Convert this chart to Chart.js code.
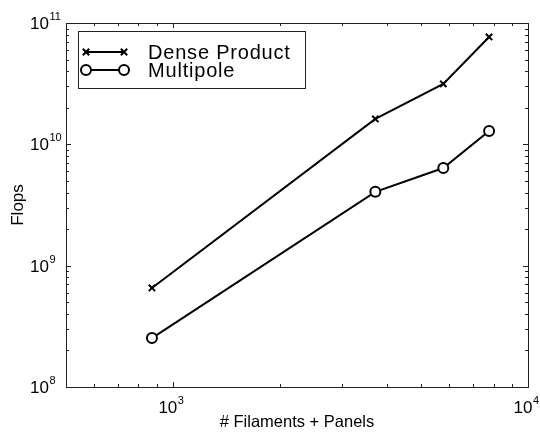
<!DOCTYPE html>
<html>
<head>
<meta charset="utf-8">
<script src="https://cdn.jsdelivr.net/npm/chart.js@4"></script>
<style>
  html, body { margin: 0; padding: 0; background: #fff; }
  #wrap { width: 540px; height: 437px; position: relative; }
</style>
</head>
<body>
<div id="wrap"><canvas id="c" width="540" height="437"></canvas></div>
<script>
// Problem size (number of filaments + panels)
const sizes = [873, 3716, 5774, 7770];
// Operation counts for each method
const denseProduct = [6.55e8, 1.62e10, 3.15e10, 7.67e10];
const multipole = [2.53e8, 4.06e9, 6.38e9, 1.29e10];
const seriesNames = ['Dense Product', 'Multipole'];

// Decade tick labels (exponents of ten)
const xExponents = [3, 4];
const yExponents = [8, 9, 10, 11];
const xTitle = '# Filaments + Panels';
const yTitle = 'Flops';

const FONT = '"Liberation Sans", Arial, Helvetica, sans-serif';

function toPoints(xs, ys) {
  return xs.map((x, i) => ({ x: x, y: ys[i] }));
}

function drawPower(ctx, exp, x, y, align) {
  ctx.font = '17px ' + FONT;
  const wBase = ctx.measureText('10').width;
  ctx.font = '11px ' + FONT;
  const wExp = ctx.measureText(String(exp)).width;
  let left = x;
  if (align === 'center') left = x - (wBase + wExp) / 2;
  ctx.textAlign = 'left';
  ctx.textBaseline = 'alphabetic';
  ctx.font = '17px ' + FONT;
  ctx.fillText('10', left, y);
  ctx.font = '11px ' + FONT;
  ctx.fillText(String(exp), left + wBase + 0.5, y - 9);
}

// Frame, inward ticks on all four sides, tick labels, titles and legend
const framePlugin = {
  id: 'frame',
  afterDraw(chart) {
    const ctx = chart.ctx;
    const a = chart.chartArea;
    const xs = chart.scales.x, ys = chart.scales.y;
    ctx.save();
    ctx.strokeStyle = '#222';
    ctx.lineWidth = 1;
    ctx.strokeRect(a.left + 0.5, a.top + 0.5, a.right - a.left, a.bottom - a.top);

    ctx.beginPath();
    // x ticks
    for (let d = 2; d <= 4; d++) {
      for (let m = 1; m <= 9; m++) {
        const v = m * Math.pow(10, d);
        if (v < xs.min || v > xs.max) continue;
        const px = Math.round(xs.getPixelForValue(v)) + 0.5;
        const len = m === 1 ? 5 : 3;
        ctx.moveTo(px, a.bottom); ctx.lineTo(px, a.bottom - len);
        ctx.moveTo(px, a.top); ctx.lineTo(px, a.top + len);
      }
    }
    // y ticks
    for (let d = 8; d <= 11; d++) {
      for (let m = 1; m <= 9; m++) {
        const v = m * Math.pow(10, d);
        if (v < ys.min || v > ys.max) continue;
        const py = Math.round(ys.getPixelForValue(v)) + 0.5;
        const len = m === 1 ? 5 : 3;
        ctx.moveTo(a.left, py); ctx.lineTo(a.left + len, py);
        ctx.moveTo(a.right, py); ctx.lineTo(a.right - len, py);
      }
    }
    ctx.stroke();

    ctx.fillStyle = '#000';
    xExponents.forEach(e => {
      const px = xs.getPixelForValue(Math.pow(10, e));
      drawPower(ctx, e, px - 2, a.bottom + 26, 'center');
    });
    yExponents.forEach(e => {
      const py = ys.getPixelForValue(Math.pow(10, e));
      drawPower(ctx, e, 30, py + 6, 'left');
    });

    // axis titles
    ctx.font = '16.5px ' + FONT;
    ctx.textAlign = 'center';
    ctx.textBaseline = 'alphabetic';
    ctx.fillText(xTitle, (a.left + a.right) / 2, 427);
    ctx.save();
    ctx.translate(23, (a.top + a.bottom) / 2);
    ctx.rotate(-Math.PI / 2);
    ctx.font = '17px ' + FONT;
    ctx.fillText(yTitle, 0, 0);
    ctx.restore();

    // legend
    const lx = 78, ly = 31, lw = 227, lh = 57;
    ctx.fillStyle = '#fff';
    ctx.fillRect(lx, ly, lw, lh);
    ctx.strokeStyle = '#222';
    ctx.lineWidth = 1;
    ctx.strokeRect(lx + 0.5, ly + 0.5, lw, lh);
    const rows = [52, 70];
    chart.data.datasets.forEach((ds, i) => {
      const y = rows[i];
      ctx.strokeStyle = '#000';
      ctx.lineWidth = 2;
      ctx.beginPath();
      ctx.moveTo(86, y); ctx.lineTo(124, y);
      ctx.stroke();
      [86, 124].forEach(px => {
        ctx.fillStyle = '#fff';
        ctx.strokeStyle = '#000';
        ctx.lineWidth = 2;
        Chart.helpers.drawPoint(ctx, {
          pointStyle: ds.pointStyle, radius: ds.pointRadius,
          borderWidth: 2, rotation: 0
        }, px, y);
      });
      ctx.fillStyle = '#000';
      ctx.font = '20px ' + FONT;
      ctx.textAlign = 'left';
      ctx.textBaseline = 'alphabetic';
      ctx.letterSpacing = '0.8px';
      ctx.fillText(ds.label, 148, y + 6.5);
      ctx.letterSpacing = '0px';
    });
    ctx.restore();
  }
};

new Chart(document.getElementById('c'), {
  type: 'line',
  data: {
    datasets: [
      {
        label: seriesNames[0],
        data: toPoints(sizes, denseProduct),
        borderColor: '#000',
        borderWidth: 2,
        pointStyle: 'crossRot',
        pointRadius: 4.5,
        pointBorderWidth: 2,
        pointBorderColor: '#000',
        pointBackgroundColor: '#fff',
        tension: 0
      },
      {
        label: seriesNames[1],
        data: toPoints(sizes, multipole),
        borderColor: '#000',
        borderWidth: 2,
        pointStyle: 'circle',
        pointRadius: 5,
        pointBorderWidth: 2,
        pointBorderColor: '#000',
        pointBackgroundColor: '#fff',
        tension: 0
      }
    ]
  },
  options: {
    responsive: false,
    animation: false,
    devicePixelRatio: 1,
    layout: { padding: { top: 23, right: 12, left: 0, bottom: 0 } },
    plugins: { legend: { display: false }, tooltip: { enabled: false } },
    scales: {
      x: {
        type: 'logarithmic',
        min: 500, max: 10000,
        grid: { display: false },
        border: { display: false },
        ticks: { display: false },
        afterFit(scale) { scale.height = 50; }
      },
      y: {
        type: 'logarithmic',
        min: 1e8, max: 1e11,
        grid: { display: false },
        border: { display: false },
        ticks: { display: false },
        afterFit(scale) { scale.width = 66; }
      }
    }
  },
  plugins: [framePlugin]
});
</script>
</body>
</html>
